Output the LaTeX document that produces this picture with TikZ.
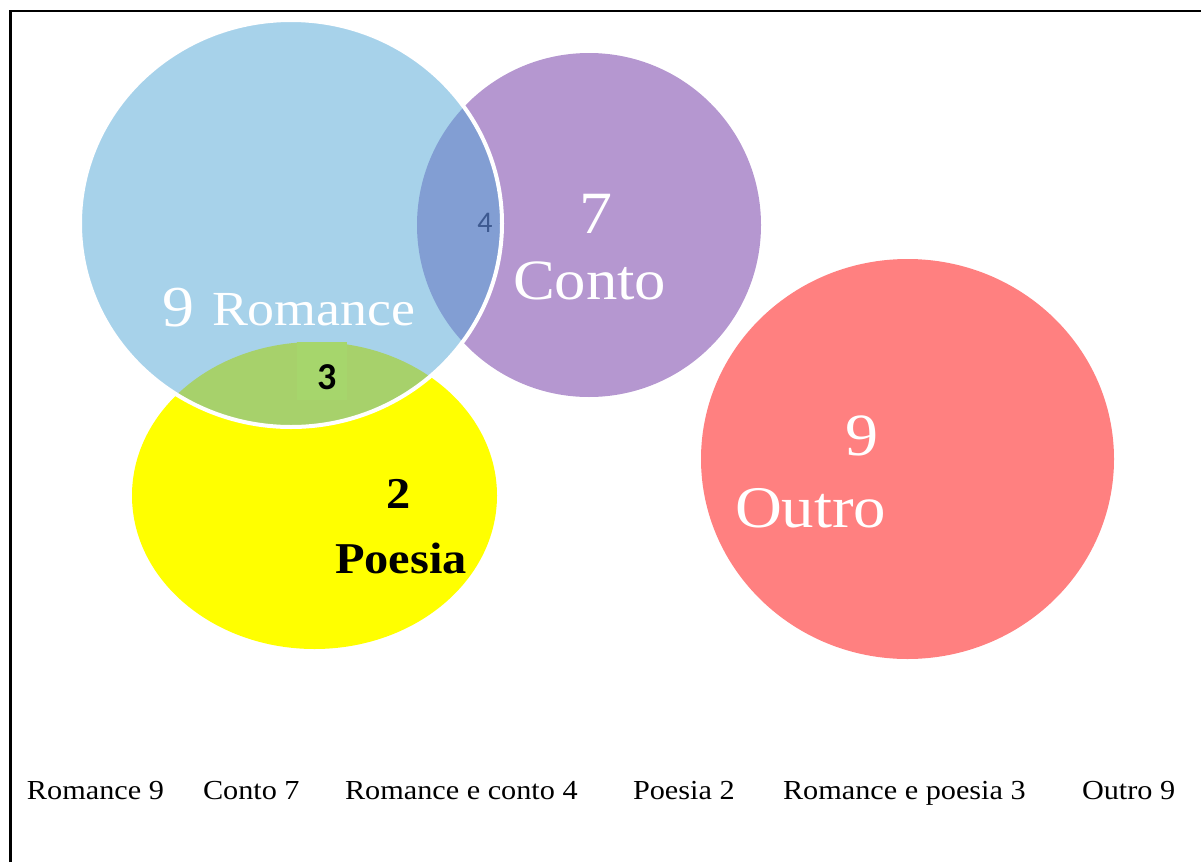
\documentclass[tikz,border=0pt]{standalone}
\usepackage{fontspec}
\setmainfont{Liberation Serif}[FakeStretch=1.1]
\newfontfamily\calib{Carlito}
\definecolor{romblue}{RGB}{80,165,214}
\definecolor{contopurple}{RGB}{181,151,208}
\definecolor{outrored}{RGB}{255,128,128}
\definecolor{poesiayellow}{RGB}{255,255,0}
\definecolor{lensgreen}{RGB}{166,214,108}
\definecolor{fourblue}{RGB}{62,90,145}
\tikzset{
  lbl/.style={inner sep=0pt, outer sep=0pt},
  bigwhite/.style={lbl, text=white},
  legend/.style={lbl, anchor=base west, font=\fontsize{27.5}{30}\selectfont}
}
\begin{document}
\begin{tikzpicture}[x=1pt,y=-1pt]
\useasboundingbox (0,0) rectangle (1201,862);
% frame
\draw[line width=2.8pt] (10.5,862) -- (10.5,11) -- (1201,11);
% sets
\fill[contopurple] (589,225) circle (172);
\fill[poesiayellow] (314.5,495.5) ellipse [x radius=182.5, y radius=153.5];
\fill[outrored] (907.5,459) ellipse [x radius=206.5, y radius=200];
\path[fill=romblue, fill opacity=0.5, draw=white, draw opacity=1, line width=4pt]
  (291,223.5) ellipse [x radius=211, y radius=203.5];
\fill[lensgreen] (297,342) rectangle (347,400);
% labels in sets
\node[bigwhite, anchor=base west, font=\fontsize{58}{60}\selectfont] (n9r) at (162,326) {9};
\node[bigwhite, anchor=base west, font=\fontsize{49}{52}\selectfont] (rom) at (212,325) {Romance};
\node[bigwhite, anchor=base, font=\fontsize{60}{62}\selectfont] (n7) at (596,233) {7};
\node[bigwhite, anchor=base west, font=\fontsize{57}{60}\selectfont] (conto) at (513,299) {Conto};
\node[bigwhite, anchor=base, font=\fontsize{60}{62}\selectfont] (n9o) at (862,455) {9};
\node[bigwhite, anchor=base west, font=\fontsize{59}{62}\selectfont] (outro) at (735,527) {Outro};
\node[lbl, anchor=base, font=\bfseries\fontsize{44}{46}\selectfont] (n2) at (399,508) {2};
\node[lbl, anchor=base west, font=\bfseries\fontsize{44}{46}\selectfont] (poesia) at (335,573) {Poesia};
\node[lbl, anchor=base, text=fourblue, font=\calib\fontsize{30}{32}\selectfont] (n4) at (485,232) {4};
\node[lbl, anchor=base, font=\calib\bfseries\fontsize{38}{40}\selectfont] (n3) at (327,389) {3};
% legend
\node[legend] (l1) at (27,799) {Romance 9};
\node[legend] (l2) at (203,799) {Conto 7};
\node[legend] (l3) at (345,799) {Romance e conto 4};
\node[legend] (l4) at (633,799) {Poesia 2};
\node[legend] (l5) at (783,799) {Romance e poesia 3};
\node[legend] (l6) at (1082,799) {Outro 9};
\end{tikzpicture}
\end{document}
